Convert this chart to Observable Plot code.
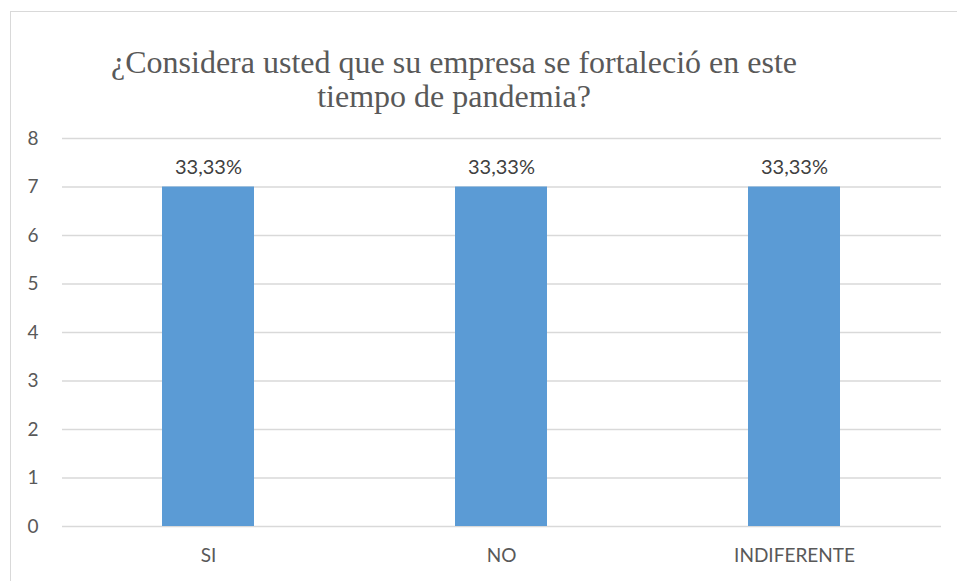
<!DOCTYPE html>
<html>
<head>
<meta charset="utf-8">
<script src="https://cdn.jsdelivr.net/npm/d3@7"></script>
<script src="https://cdn.jsdelivr.net/npm/@observablehq/plot@0.6"></script>
<style>
  html, body { margin: 0; padding: 0; background: #fff; }
  #wrap { position: relative; width: 957px; height: 581px; overflow: hidden; }
  #frame { position: absolute; left: 10px; top: 11px; width: 980px; height: 600px; border: 1.5px solid #d9d9d9; box-sizing: border-box; }
  #title { position: absolute; left: 0; top: 45px; width: 908px; text-align: center;
           font-family: "Liberation Serif", "Times New Roman", serif; font-size: 32px; line-height: 34px; color: #595959; }
  #chart { position: absolute; left: 0; top: 0; }
</style>
</head>
<body>
<div id="wrap">
  <div id="frame"></div>
  <div id="chart"></div>
  <div id="title">¿Considera usted que su empresa se fortaleció en este<br>tiempo de pandemia?</div>
</div>
<script>
const categories = ["SI", "NO", "INDIFERENTE"];
const counts = [7, 7, 7];
const labels = ["33,33%", "33,33%", "33,33%"];
const yTicks = [0, 1, 2, 3, 4, 5, 6, 7, 8];

const data = categories.map((c, i) => ({cat: c, value: counts[i], label: labels[i]}));

const chart = Plot.plot({
  width: 957,
  height: 581,
  marginLeft: 62,
  marginRight: 16,
  marginTop: 138,
  marginBottom: 55,
  style: {fontFamily: "Lato, 'Open Sans', sans-serif", fontSize: "19px", color: "#595959", background: "transparent"},
  x: {domain: categories, paddingInner: 0.686, paddingOuter: 0.343, label: null},
  y: {domain: [0, 8], label: null},
  marks: [
    Plot.ruleY(yTicks, {stroke: "#d9d9d9", strokeWidth: 1.5}),
    Plot.barY(data, {x: "cat", y: "value", fill: "#5B9BD5"}),
    Plot.text(data, {x: "cat", y: "value", text: "label", dy: -19, fill: "#404040", fontSize: 20}),
    Plot.axisY({ticks: yTicks, tickSize: 0, tickPadding: 24, fontSize: 19, fill: "#595959", label: null}),
    Plot.axisX({tickSize: 0, tickPadding: 22, fontSize: 19, fill: "#595959", label: null})
  ]
});
document.getElementById("chart").appendChild(chart);
</script>
</body>
</html>
